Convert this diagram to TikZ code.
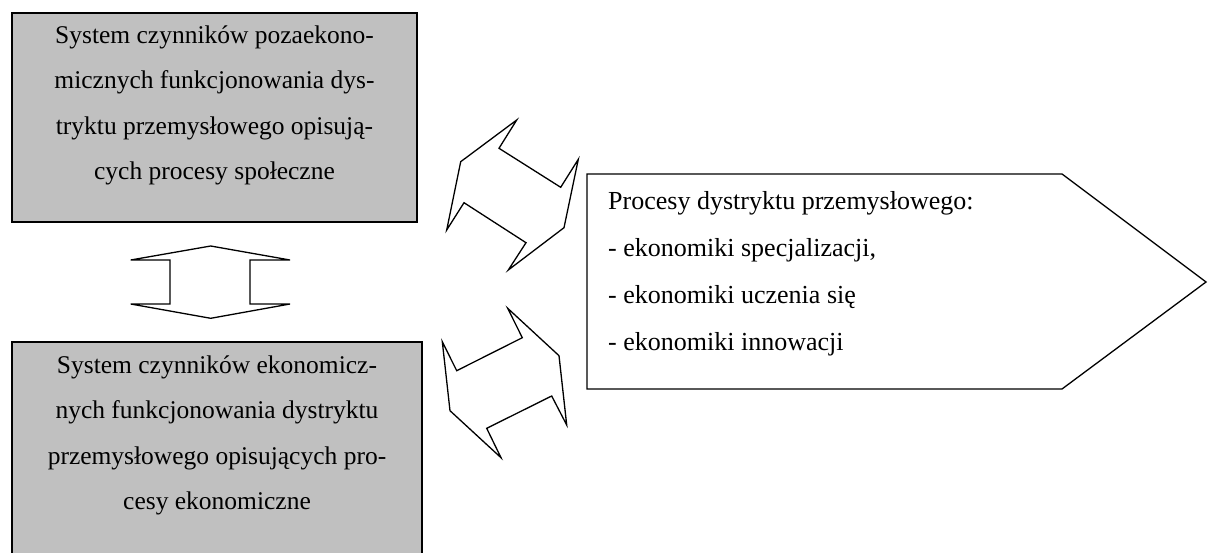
\documentclass[tikz,border=0pt]{standalone}
\usepackage{fontspec}
\setmainfont{Liberation Serif}
\definecolor{boxgrey}{HTML}{C0C0C0}
\begin{document}
\begin{tikzpicture}[x=1pt,y=-1pt,
  greybox/.style={draw=black, line width=1.6pt, fill=boxgrey},
  outline/.style={draw=black, line width=1.3pt, line join=miter, fill=white},
  boxtext/.style={inner sep=0pt, anchor=north, align=center,
    font=\fontsize{25.5}{45.5}\selectfont},
  listtext/.style={inner sep=0pt, anchor=north west, align=left,
    font=\fontsize{26}{47}\selectfont}]
\useasboundingbox (0,0) rectangle (1209,553);

% upper grey box: non-economic factors
\path[greybox] (12,13) rectangle (417,222);
\node[boxtext] (social) at (214.5,23)
  {\rule{0pt}{20pt}System czynników pozaekono-\\
   micznych funkcjonowania dys-\\
   tryktu przemysłowego opisują-\\
   cych procesy społeczne};

% lower grey box: economic factors (runs off the bottom edge)
\fill[boxgrey] (12,342) rectangle (422,560);
\draw[line width=1.6pt] (12,560) -- (12,342) -- (422,342) -- (422,560);
\node[boxtext] (economic) at (217,353)
  {\rule{0pt}{20pt}System czynników ekonomicz-\\
   nych funkcjonowania dystryktu\\
   przemysłowego opisujących pro-\\
   cesy ekonomiczne};

% pentagon arrow box with the district processes
\path[outline] (587,174) -- (1062,174) -- (1206,282) -- (1062,389) -- (587,389) -- cycle;
\node[listtext] (processes) at (608,189)
  {\rule{0pt}{20pt}Procesy dystryktu przemysłowego:\\
   - ekonomiki specjalizacji,\\
   - ekonomiki uczenia się\\
   - ekonomiki innowacji};

% vertical double arrow between the two grey boxes
\path[outline] (210.7,246) -- (290,260) -- (250,260) -- (250,304) -- (290,304)
  -- (210.7,318.3) -- (130.7,304) -- (170,304) -- (170,260) -- (130.7,260) -- cycle;

% slanted double arrow: upper box <-> pentagon
\path[outline] (516.7,120) -- (499,148.3) -- (560.7,187.3) -- (578.3,159.3)
  -- (564,227.7) -- (508.3,270) -- (526,242.7) -- (464,202.7)
  -- (446.7,230) -- (460.7,161.7) -- cycle;

% slanted double arrow: lower box <-> pentagon
\path[outline] (507.7,308.3) -- (522.3,337.7) -- (456.7,370.7) -- (442.3,341.7)
  -- (450,410.7) -- (501,457.7) -- (486.7,428.3) -- (551.7,396)
  -- (566.7,425) -- (559,355.7) -- cycle;
\end{tikzpicture}
\end{document}
